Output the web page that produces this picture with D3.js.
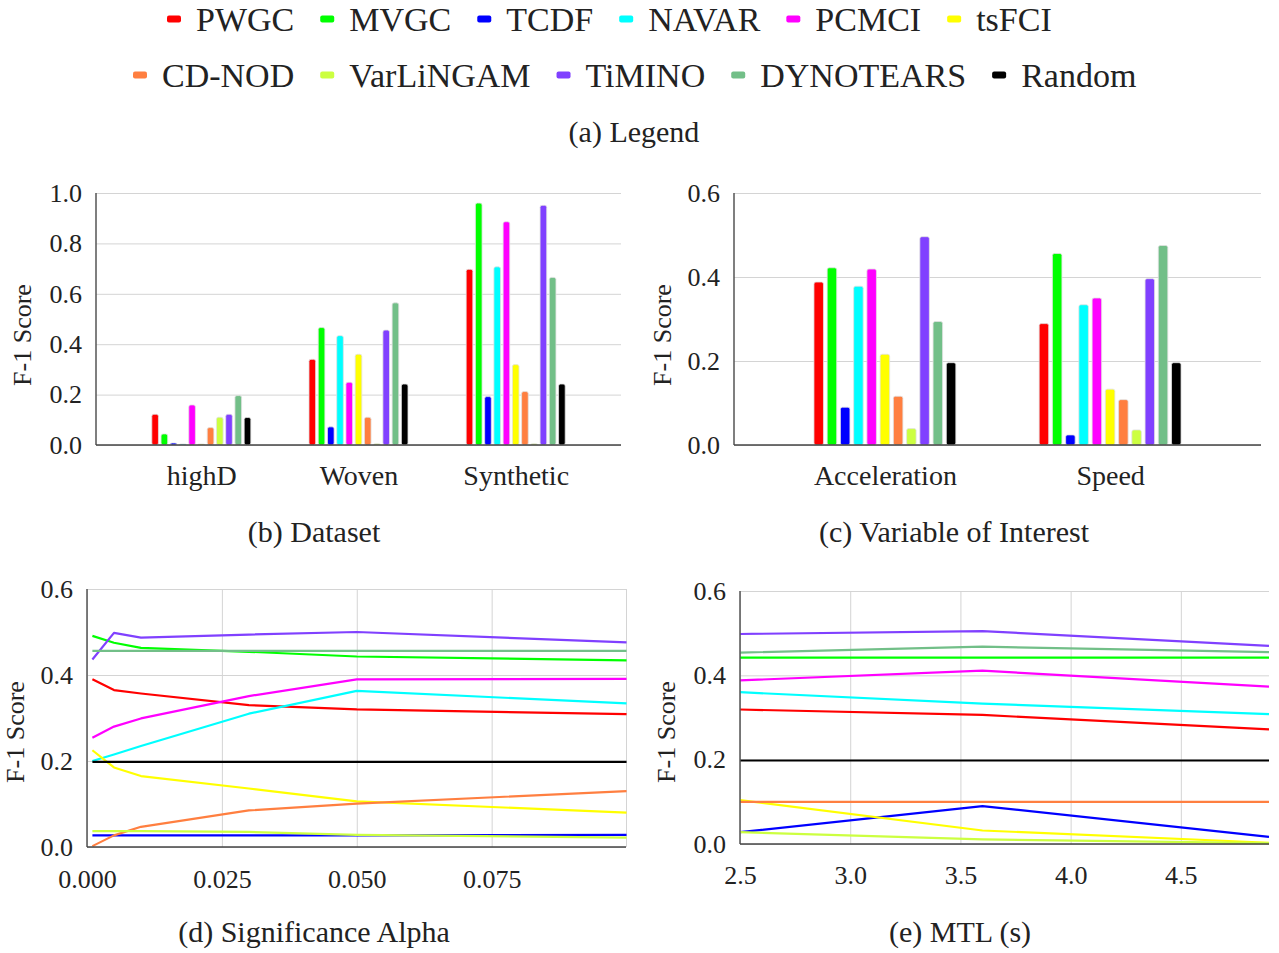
<!DOCTYPE html>
<html>
<head>
<meta charset="utf-8">
<script src="https://cdn.jsdelivr.net/npm/d3@7"></script>
<style>
  body { margin: 0; background: #fff; }
  svg text { font-family: "Liberation Serif", serif; }
</style>
</head>
<body>
<svg id="fig" width="1279" height="953"></svg>
<script>
// methods and their colours (legend order)
const methods = ["PWGC", "MVGC", "TCDF", "NAVAR", "PCMCI", "tsFCI",
                 "CD-NOD", "VarLiNGAM", "TiMINO", "DYNOTEARS", "Random"];
const colors = ["#ff0000", "#00ff00", "#0000ff", "#00ffff", "#ff00ff", "#ffff00",
                "#ff7f40", "#ccff40", "#8040ff", "#72bf88", "#000000"];

// (b) dataset
const datasets = ["highD", "Woven", "Synthetic"];
const highDScores     = [0.122, 0.044, 0.008, 0.004, 0.159, 0.004, 0.069, 0.110, 0.122, 0.196, 0.109];
const wovenScores     = [0.340, 0.466, 0.072, 0.434, 0.249, 0.360, 0.110, 0.005, 0.456, 0.564, 0.242];
const syntheticScores = [0.697, 0.960, 0.192, 0.707, 0.886, 0.319, 0.212, 0.005, 0.951, 0.665, 0.242];

// (c) variable of interest
const variables = ["Acceleration", "Speed"];
const accelScores = [0.388, 0.422, 0.090, 0.378, 0.419, 0.216, 0.116, 0.039, 0.496, 0.294, 0.196];
const speedScores = [0.289, 0.456, 0.024, 0.334, 0.350, 0.133, 0.108, 0.036, 0.396, 0.475, 0.196];

// (d) significance alpha, one row per method
const alphaValues = [0.001, 0.005, 0.01, 0.03, 0.05, 0.1];
const alphaScores = [
  [0.390, 0.365, 0.357, 0.330, 0.320, 0.309],
  [0.491, 0.475, 0.463, 0.454, 0.443, 0.434],
  [0.027, 0.027, 0.027, 0.027, 0.027, 0.028],
  [0.200, 0.215, 0.235, 0.310, 0.363, 0.334],
  [0.254, 0.280, 0.299, 0.351, 0.390, 0.391],
  [0.225, 0.185, 0.165, 0.136, 0.106, 0.080],
  [0.002, 0.027, 0.047, 0.085, 0.101, 0.130],
  [0.037, 0.037, 0.037, 0.035, 0.028, 0.022],
  [0.436, 0.498, 0.487, 0.494, 0.500, 0.476],
  [0.456, 0.456, 0.456, 0.456, 0.456, 0.456],
  [0.198, 0.198, 0.198, 0.198, 0.198, 0.198]
];

// (e) MTL (s)
const mtlValues = [2.5, 3.6, 4.9];
const mtlScores = [
  [0.319, 0.306, 0.272],
  [0.442, 0.442, 0.442],
  [0.028, 0.090, 0.017],
  [0.360, 0.333, 0.308],
  [0.388, 0.411, 0.373],
  [0.104, 0.032, 0.003],
  [0.100, 0.100, 0.100],
  [0.028, 0.011, 0.002],
  [0.498, 0.505, 0.470],
  [0.454, 0.468, 0.455],
  [0.198, 0.198, 0.198]
];

const svg = d3.select("#fig");
const textColor = "#222";
const serif = "Liberation Serif";

// ---------- legend ----------
function legendRow(items, startX, cy) {
  let x = startX;
  items.forEach(i => {
    svg.append("rect")
      .attr("x", x).attr("y", cy - 3.5)
      .attr("width", 14).attr("height", 7).attr("rx", 2)
      .attr("fill", colors[i]);
    const t = svg.append("text")
      .attr("x", x + 29).attr("y", cy)
      .attr("dominant-baseline", "central")
      .attr("font-family", serif)
      .attr("font-size", 34).attr("fill", textColor)
      .text(methods[i]);
    x += 29 + t.node().getComputedTextLength() + 26;
  });
}
legendRow([0, 1, 2, 3, 4, 5], 167, 19);
legendRow([6, 7, 8, 9, 10], 133, 75);

function caption(x, y, s) {
  svg.append("text")
    .attr("x", x).attr("y", y)
    .attr("text-anchor", "middle").attr("dominant-baseline", "central")
    .attr("font-family", serif)
    .attr("font-size", 30).attr("fill", textColor)
    .text(s);
}
caption(634, 131, "(a) Legend");

function yTitle(x, y) {
  svg.append("text")
    .attr("transform", `translate(${x},${y}) rotate(-90)`)
    .attr("text-anchor", "middle").attr("dominant-baseline", "central")
    .attr("font-family", serif)
    .attr("font-size", 26).attr("fill", textColor)
    .text("F-1 Score");
}

// y grid + tick labels
function yFrame(g, y, x0, x1, ticks) {
  g.append("g")
    .attr("transform", `translate(${x0},0)`)
    .call(d3.axisLeft(y).tickValues(ticks).tickSize(-(x1 - x0)).tickPadding(14).tickFormat(d3.format(".1f")))
    .call(a => a.select(".domain").remove())
    .call(a => a.selectAll(".tick line").attr("stroke", "#d4d4d4"))
    .call(a => a.selectAll(".tick text").attr("font-size", 26).attr("font-family", serif).attr("fill", textColor));
}

function axisLines(g, x0, x1, yTop, yBot) {
  g.append("line").attr("x1", x0).attr("x2", x0).attr("y1", yTop).attr("y2", yBot)
    .attr("stroke", "#555").attr("stroke-width", 1.5);
  g.append("line").attr("x1", x0).attr("x2", x1).attr("y1", yBot).attr("y2", yBot)
    .attr("stroke", "#444").attr("stroke-width", 1.5);
}

// ---------- grouped bar panel ----------
function barPanel(x0, x1, yTop, yBot, cats, scores, ymax, ticks) {
  const g = svg.append("g");
  const y = d3.scaleLinear([0, ymax], [yBot, yTop]);
  const x = d3.scalePoint(cats, [x0, x1]).padding(0.67);
  const half = 0.315 * x.step();
  const inner = d3.scaleBand(d3.range(methods.length), [-half, half]).paddingInner(0.28);

  yFrame(g, y, x0, x1, ticks);

  cats.forEach((c, ci) => {
    g.append("g")
      .selectAll("rect")
      .data(scores[ci])
      .join("rect")
      .attr("x", (d, i) => x(c) + inner(i))
      .attr("width", inner.bandwidth())
      .attr("y", d => y(d))
      .attr("height", d => yBot - y(d))
      .attr("rx", 2)
      .attr("fill", (d, i) => colors[i])
      .attr("stroke", "#e2e2e2")
      .attr("stroke-width", 0.8);
  });

  axisLines(g, x0, x1, yTop, yBot);

  g.append("g")
    .attr("transform", `translate(0,${yBot})`)
    .call(d3.axisBottom(x).tickSize(0).tickPadding(20))
    .call(a => a.select(".domain").remove())
    .call(a => a.selectAll(".tick text").attr("font-size", 28).attr("font-family", serif).attr("fill", textColor));
}

barPanel(96, 621, 193, 445, datasets, [highDScores, wovenScores, syntheticScores], 1.0, [0, 0.2, 0.4, 0.6, 0.8, 1.0]);
yTitle(22, 335);
caption(314, 531, "(b) Dataset");

barPanel(734, 1261, 193, 445, variables, [accelScores, speedScores], 0.6, [0, 0.2, 0.4, 0.6]);
yTitle(662, 335);
caption(954, 531, "(c) Variable of Interest");

// ---------- line panel ----------
function linePanel(x0, x1, yTop, yBot, xs, scores, xDomain, xGrid, xLabelMax, fmt, pad) {
  const g = svg.append("g");
  const x = d3.scaleLinear(xDomain, [x0, x1]);
  const y = d3.scaleLinear([0, 0.6], [yBot, yTop]);

  yFrame(g, y, x0, x1, [0, 0.2, 0.4, 0.6]);

  g.append("g")
    .attr("transform", `translate(0,${yBot})`)
    .call(d3.axisBottom(x).tickValues(xGrid).tickSize(-(yBot - yTop)).tickPadding(pad)
      .tickFormat(d => d <= xLabelMax ? fmt(d) : ""))
    .call(a => a.select(".domain").remove())
    .call(a => a.selectAll(".tick line").attr("stroke", "#d4d4d4"))
    .call(a => a.selectAll(".tick text").attr("font-size", 26).attr("font-family", serif).attr("fill", textColor));

  const line = d3.line().x((d, i) => x(xs[i])).y(d => y(d));
  g.append("g")
    .attr("fill", "none")
    .attr("stroke-width", 2.2)
    .attr("stroke-linejoin", "round")
    .selectAll("path")
    .data(scores)
    .join("path")
    .attr("stroke", (d, i) => colors[i])
    .attr("d", line);

  axisLines(g, x0, x1, yTop, yBot);
}

linePanel(87, 626, 589, 847, alphaValues, alphaScores, [0, 0.0999], [0, 0.025, 0.05, 0.075, 0.0999], 0.08, d3.format(".3f"), 23);
yTitle(15, 732);
caption(314, 931, "(d) Significance Alpha");

linePanel(740, 1269, 591, 844, mtlValues, mtlScores, [2.5, 4.9], [2.5, 3.0, 3.5, 4.0, 4.5], 4.5, d3.format(".1f"), 22);
yTitle(666, 732);
caption(960, 931, "(e) MTL (s)");
</script>
</body>
</html>
